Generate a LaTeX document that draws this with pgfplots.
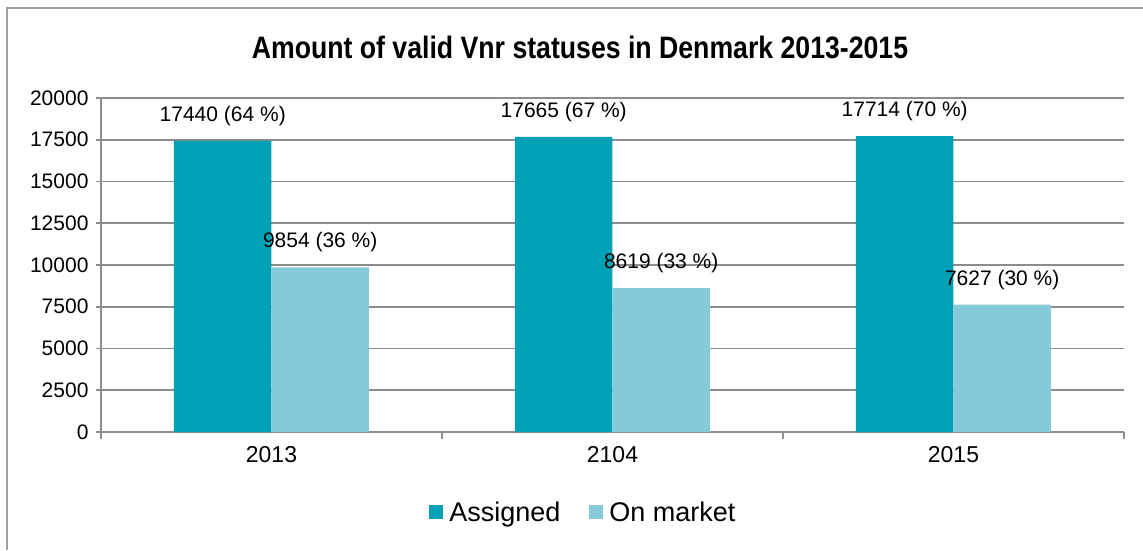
\documentclass[border=0pt]{standalone}
\usepackage{pgfplots}
\pgfplotsset{compat=1.18}
\usepackage{fontspec}
\setmainfont{Liberation Sans}
\newfontfamily\titlefont[FakeStretch=0.86]{Liberation Sans}
\definecolor{cA}{HTML}{00A1B5}
\definecolor{cB}{HTML}{86C9D9}
\definecolor{gridc}{HTML}{8C8C8C}
\definecolor{framec}{HTML}{A0A0A0}
\begin{document}
\begin{tikzpicture}[x=1pt,y=1pt]
\path[use as bounding box] (0,0) rectangle (1143,550);
\draw[framec, line width=2pt] (7,0) -- (7,542) -- (1143,542);
\node[font=\titlefont\bfseries\fontsize{31}{37}\selectfont] at (580,503) {Amount of valid Vnr statuses in Denmark 2013-2015};
\begin{axis}[
  at={(101pt,118pt)}, anchor=south west,
  width=1023pt, height=334pt, scale only axis,
  xmin=-0.5, xmax=2.5, ymin=0, ymax=20000,
  ytick={0,2500,...,20000},
  xtick={0,1,2}, xticklabels={2013,2104,2015},
  minor xtick={-0.5,0.5,1.5,2.5},
  axis x line*=bottom, axis y line*=left,
  axis line style={gridc, line width=1.8pt, -},
  tick align=outside,
  major tick length=5pt, minor tick length=7pt,
  major x tick style={draw=none},
  minor x tick style={gridc, line width=1.8pt},
  y tick style={gridc, line width=1.8pt},
  ymajorgrids, major grid style={gridc, line width=1.8pt},
  /pgf/number format/assume math mode=true,
  /pgf/number format/1000 sep={},
  scaled y ticks=false,
  yticklabel style={font=\fontsize{21}{25}\selectfont, xshift=-4pt},
  xticklabel style={font=\fontsize{23}{27}\selectfont, yshift=-6pt},
  ybar=0pt, bar width=97.5pt,
  point meta=explicit symbolic,
  nodes near coords,
  every node near coord/.append style={font=\fontsize{21}{25}\selectfont, inner sep=0pt, yshift=15pt, text=black},
  legend columns=2,
  legend style={at={(0.472,-0.2395)}, anchor=center, draw=none, fill=none,
    font=\fontsize{27}{32}\selectfont,
    /tikz/every even column/.append style={column sep=26pt},
    nodes={inner sep=3pt}},
  legend image code/.code={\fill[#1] (0pt,-7pt) rectangle (14pt,7pt);},
  legend style={/tikz/every odd column/.append style={column sep=3pt}},
]
\addplot[fill=cA, draw=none] coordinates {(0,17440) [17440 (64 \%)] (1,17665) [17665 (67 \%)] (2,17714) [17714 (70 \%)]};
\addplot[fill=cB, draw=none] coordinates {(0,9854) [9854 (36 \%)] (1,8619) [8619 (33 \%)] (2,7627) [7627 (30 \%)]};
\legend{Assigned, On market}
\end{axis}
\end{tikzpicture}
\end{document}
